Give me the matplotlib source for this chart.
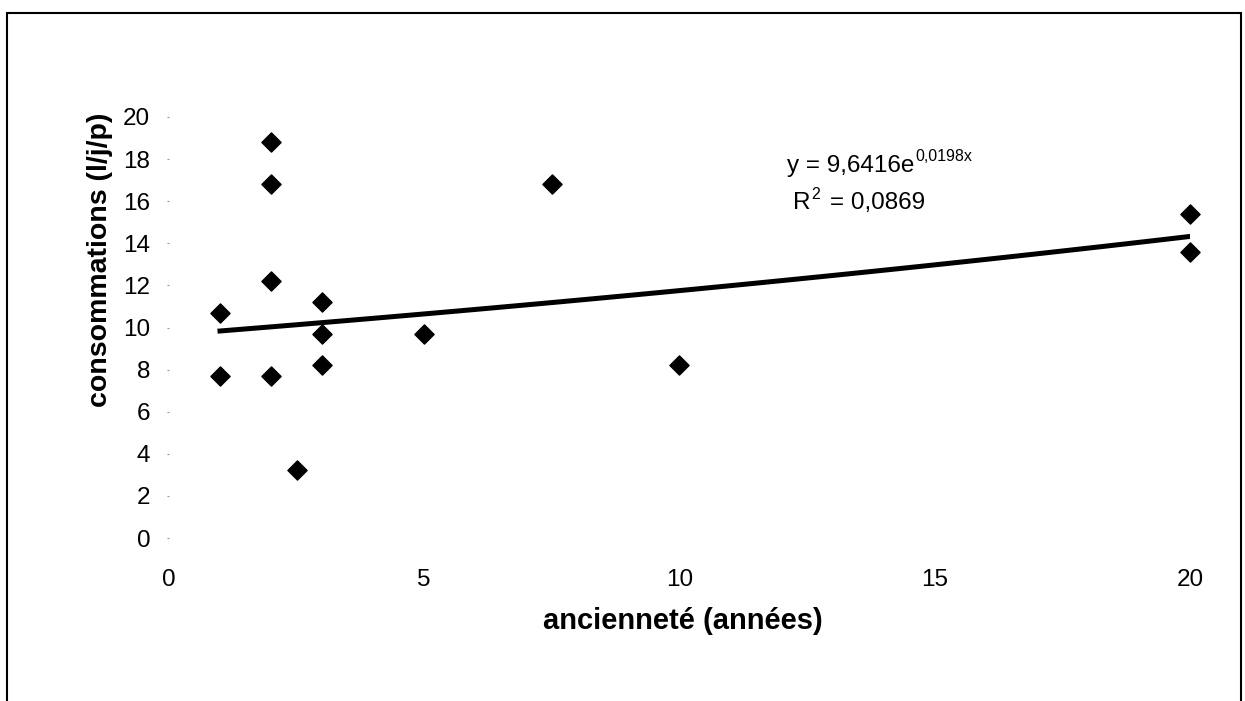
import matplotlib
matplotlib.use("Agg")
import matplotlib.pyplot as plt
from matplotlib.patches import Rectangle
import numpy as np

plt.rcParams["font.family"] = ["Liberation Sans", "DejaVu Sans"]

# measured points: ancienneté (years) vs consumption (l/j/p)
anciennete = [1, 1, 2, 2, 2, 2, 2.5, 3, 3, 3, 5, 7.5, 10, 20, 20]
consommation = [10.7, 7.7, 18.8, 16.8, 12.2, 7.7, 3.25, 11.2, 9.7, 8.2,
                9.7, 16.8, 8.2, 15.4, 13.6]

# exponential trend fitted in the original sheet
coef_a = 9.6416
coef_b = 0.0198
r2 = 0.0869

x_ticks = [0, 5, 10, 15, 20]
y_ticks = [0, 2, 4, 6, 8, 10, 12, 14, 16, 18, 20]

fig = plt.figure(figsize=(12.45, 7.01), dpi=100)
ax = fig.add_axes([0.1357, 0.2325, 0.8201, 0.6006])

ax.scatter(anciennete, consommation, marker="D", s=95, color="black",
           zorder=3, clip_on=False)

xt = np.linspace(min(anciennete), max(anciennete), 100)
ax.plot(xt, coef_a * np.exp(coef_b * xt), color="black", lw=3.6, zorder=2)

ax.set_xlim(0, 20)
ax.set_ylim(0, 20)
ax.set_xticks(x_ticks)
ax.set_yticks(y_ticks)
for s in ax.spines.values():
    s.set_visible(False)
ax.tick_params(axis="x", length=0, pad=22, labelsize=17.5)
ax.tick_params(axis="y", length=1.5, width=0.8, color="#999999", pad=12, labelsize=17.5)

ax.set_xlabel("ancienneté (années)", fontsize=21, fontweight="bold")
ax.xaxis.set_label_coords(0.503, -0.197)
ax.xaxis.label.set_va("center")
ax.set_ylabel("consommations (l/j/p)", fontsize=20.5, fontweight="bold")
ax.yaxis.set_label_coords(-0.068, 0.66)
ax.yaxis.label.set_va("center")

# trend line equation, superscript placed after the base text
base = ax.text(0.605, 0.884, "y = 9,6416e", transform=ax.transAxes,
               fontsize=17.5, ha="left", va="center")
fig.canvas.draw()
bb = base.get_window_extent().transformed(ax.transAxes.inverted())
ax.text(bb.x1 + 0.001, bb.y1 - 0.004, "0,0198x", transform=ax.transAxes,
        fontsize=11.5, ha="left", va="center")
rt = ax.text(0.6115, 0.795, "R", transform=ax.transAxes, fontsize=17.5,
             ha="left", va="center")
fig.canvas.draw()
rb = rt.get_window_extent().transformed(ax.transAxes.inverted())
ax.text(rb.x1, rb.y1 - 0.006, "2", transform=ax.transAxes, fontsize=11.5,
        ha="left", va="center")
ax.text(rb.x1 + 0.019, 0.795, "= " + f"{r2:.4f}".replace(".", ","),
        transform=ax.transAxes, fontsize=17.5, ha="left", va="center")

# outer frame of the chart object (bottom edge runs below the image)
fig.patches.append(Rectangle((7 / 1245, -0.1), 1234 / 1245, 1.1 - 13 / 701,
                             transform=fig.transFigure, fill=False,
                             edgecolor="black", lw=1.5))

fig.savefig("out.png", dpi=100)
